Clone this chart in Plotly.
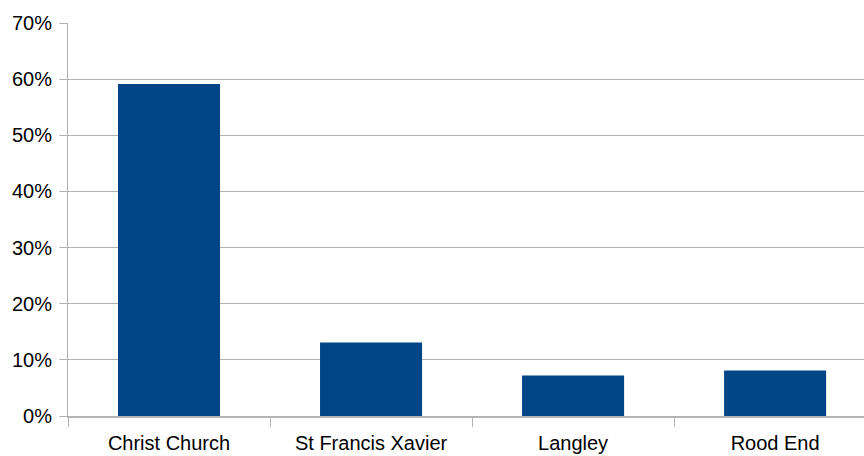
import plotly.graph_objects as go

# Share of responses by parish
categories = ["Christ Church", "St Francis Xavier", "Langley", "Rood End"]
shares = [0.5915, 0.1308, 0.072, 0.081]
tick_values = [0, 0.1, 0.2, 0.3, 0.4, 0.5, 0.6, 0.7]
tick_labels = ["0%", "10%", "20%", "30%", "40%", "50%", "60%", "70%"]

grid_color = "#b3b3b3"
font = dict(family="Liberation Sans, Arial, sans-serif", size=20, color="#000000")

fig = go.Figure(
    go.Bar(
        x=categories,
        y=shares,
        marker=dict(color="#004586", line=dict(width=0)),
        width=0.505,
        hoverinfo="skip",
    )
)

fig.update_layout(
    width=864,
    height=456,
    margin=dict(l=68, r=0, t=23, b=40),
    paper_bgcolor="white",
    plot_bgcolor="white",
    font=font,
    showlegend=False,
)

fig.update_xaxes(
    type="category",
    range=[-0.5, 3.44],
    tickson="boundaries",
    ticks="outside",
    ticklen=9,
    tickwidth=1,
    tickcolor=grid_color,
    showline=True,
    linecolor=grid_color,
    linewidth=2,
    showgrid=False,
    tickfont=font,
    ticklabelstandoff=8,
)

fig.update_yaxes(
    range=[0, 0.7],
    tickvals=tick_values,
    ticktext=tick_labels,
    ticks="outside",
    ticklen=8,
    tickwidth=1,
    tickcolor=grid_color,
    showline=True,
    linecolor=grid_color,
    linewidth=1,
    showgrid=True,
    gridcolor=grid_color,
    gridwidth=1,
    zeroline=False,
    tickfont=font,
    ticklabelstandoff=3,
)

fig.write_html("out.html")
